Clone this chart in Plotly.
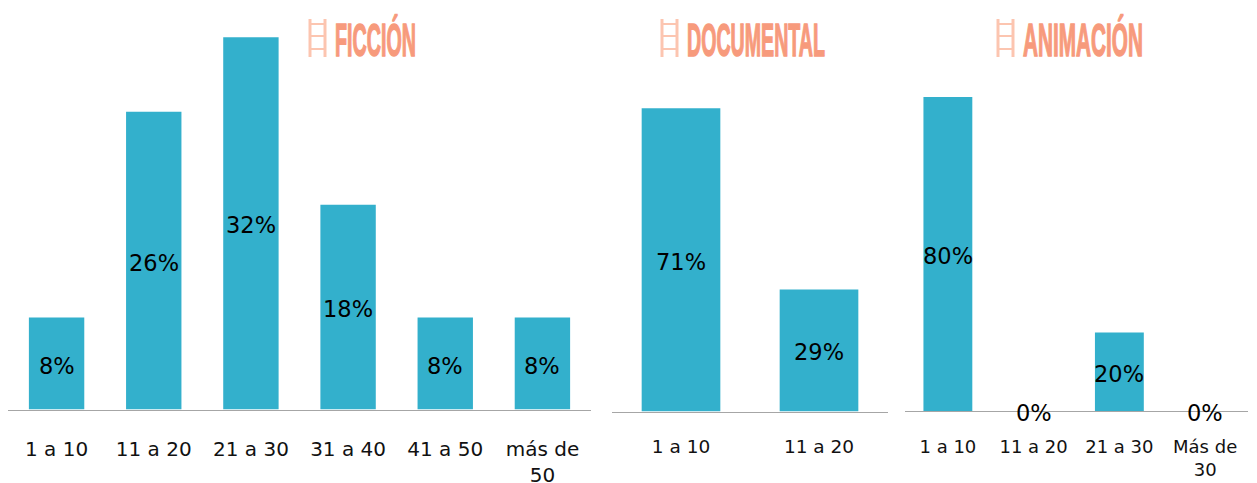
import plotly.graph_objects as go

W, H = 1257, 483

fic_cats = ["1 a 10", "11 a 20", "21 a 30", "31 a 40", "41 a 50", "más de<br>50"]
fic_vals = [7.9, 25.6, 32, 17.6, 7.9, 7.9]
doc_cats = ["1 a 10", "11 a 20"]
doc_vals = [71, 28.6]
ani_cats = ["1 a 10", "11 a 20", "21 a 30", "Más de<br>30"]
ani_vals = [80, 0, 20, 0]
titles = ["FICCIÓN", "DOCUMENTAL", "ANIMACIÓN"]
title_widths = [81, 138, 120]

BAR = "#33B0CC"
TITLE = "#F79A7C"
ICON = "#FCC5B0"
AXIS = "#A6A6A6"
FONT = "DejaVu Sans"
TITLE_FONT = "Liberation Sans"

panels = [
    dict(cats=fic_cats, vals=fic_vals, x0=8, x1=591, base=409.5, ppu=11.63,
         tick=20, lab=22.5, stand=21, title=titles[0], tx=333, ix=310),
    dict(cats=doc_cats, vals=doc_vals, x0=612, x1=888, base=411.5, ppu=4.27,
         tick=18.5, lab=22.5, stand=18, title=titles[1], tx=685, ix=662),
    dict(cats=ani_cats, vals=ani_vals, x0=905, x1=1248, base=411, ppu=3.925,
         tick=18, lab=22.5, stand=19, title=titles[2], tx=1021, ix=998),
]

fig = go.Figure()
shapes, title_notes, value_notes = [], [], []
for i, p in enumerate(panels, start=1):
    sx = "" if i == 1 else str(i)
    fig.add_trace(go.Bar(x=p["cats"], y=p["vals"], marker=dict(color=BAR, line_width=0),
                         xaxis="x" + sx, yaxis="y" + sx, showlegend=False, hoverinfo="skip"))
    for c, v in zip(p["cats"], p["vals"]):
        value_notes.append(dict(text=f"{round(v)}%", x=c, y=v / 2, xref="x" + sx, yref="y" + sx,
                                yshift=-2, showarrow=False, xanchor="center", yanchor="middle",
                                font=dict(family=FONT, size=p["lab"], color="#000000")))
    fig.update_layout({
        "xaxis" + sx: dict(domain=[p["x0"] / W, p["x1"] / W], type="category", automargin=False,
                           categoryorder="array", categoryarray=p["cats"], anchor="y" + sx,
                           showgrid=False, zeroline=False, showline=True, linecolor=AXIS, linewidth=1,
                           ticks="outside", ticklen=p["stand"], tickcolor="rgba(0,0,0,0)",
                           tickangle=0, tickfont=dict(family=FONT, size=p["tick"], color="#111111")),
        "yaxis" + sx: dict(domain=[1 - p["base"] / H, 1], range=[0, p["base"] / p["ppu"]],
                           anchor="x" + sx, visible=False, showgrid=False, zeroline=False,
                           automargin=False),
    })
    title_notes.append(dict(text="<b>%s</b>" % p["title"], xref="paper", yref="paper",
                            x=p["tx"] / W, y=1 - 40 / H, xanchor="left", yanchor="middle",
                            showarrow=False, font=dict(family=TITLE_FONT, size=47, color=TITLE)))
    # ladder icon beside each title
    ix = p["ix"]
    for dx in (0, 15):
        shapes.append(dict(type="line", xref="paper", yref="paper", x0=(ix + dx) / W, x1=(ix + dx) / W,
                           y0=1 - 19 / H, y1=1 - 57 / H, line=dict(color=ICON, width=3)))
    for yy in (24, 36, 49):
        shapes.append(dict(type="line", xref="paper", yref="paper", x0=ix / W, x1=(ix + 15) / W,
                           y0=1 - yy / H, y1=1 - yy / H, line=dict(color=ICON, width=2)))

fig.update_layout(width=W, height=H, margin=dict(l=0, r=0, t=0, b=0, autoexpand=False),
                  paper_bgcolor="white", bargap=0.43,
                  plot_bgcolor="white", shapes=shapes, annotations=title_notes + value_notes)

post = """
document.body.style.margin='0';
var targets = %s;
document.querySelectorAll('.annotation-text').forEach(function(el, i){
  if (i >= targets.length) return;
  var b = el.getBBox();
  var s = targets[i] / b.width;
  el.style.stroke = '%s';
  el.style.strokeWidth = '1.5px';
  el.setAttribute('transform', 'translate(' + b.x + ' 0) scale(' + s + ' 1) translate(' + (-b.x) + ' 0)');
});
""" % (title_widths, TITLE)
fig.write_html("out.html", post_script=post, config={"displayModeBar": False})
